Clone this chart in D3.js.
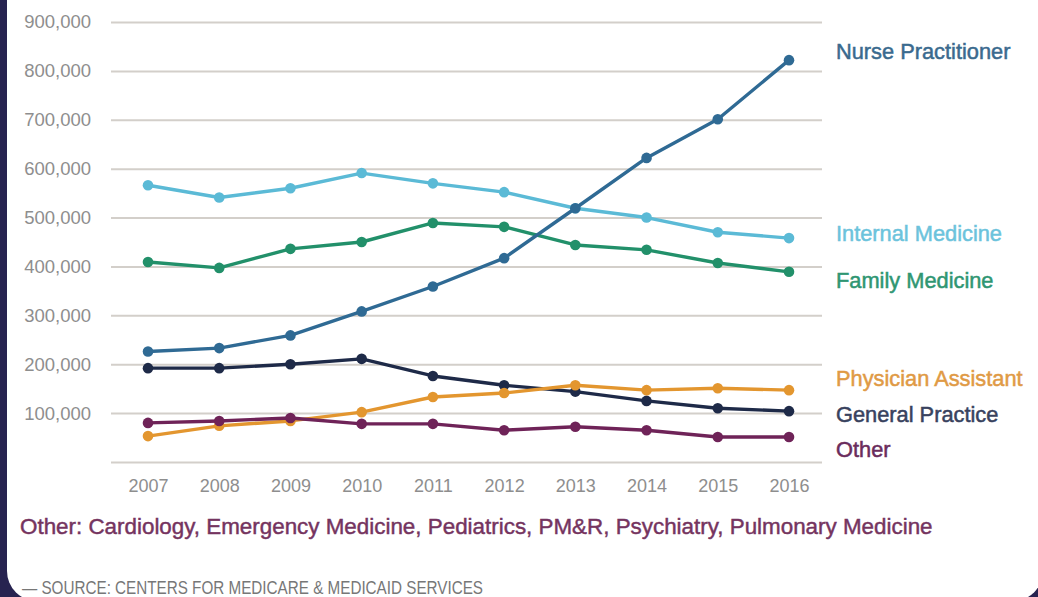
<!DOCTYPE html>
<html>
<head>
<meta charset="utf-8">
<script src="https://cdn.jsdelivr.net/npm/d3@7"></script>
<style>
  html, body { margin: 0; padding: 0; background: #272350; }
  svg { display: block; }
  text { font-family: "Liberation Sans", Arial, Helvetica, sans-serif; }
</style>
</head>
<body>
<svg id="chart" width="1038" height="597"></svg>
<script>
const years = [2007, 2008, 2009, 2010, 2011, 2012, 2013, 2014, 2015, 2016];
const nursePractitioner = [226000, 233000, 259000, 308000, 359000, 417000, 519000, 622000, 701000, 822000];
const internalMedicine  = [566000, 541000, 560000, 591000, 570000, 552000, 519000, 500000, 470000, 458000];
const familyMedicine    = [409000, 397000, 436000, 450000, 489000, 481000, 444000, 434000, 407000, 389000];
const generalPractice   = [192000, 192000, 200000, 211000, 176000, 157000, 144000, 125000, 110000, 104000];
const physicianAssistant= [53000, 74000, 84000, 102000, 133000, 141000, 157000, 147000, 151000, 147000];
const other             = [80000, 84000, 90000, 78000, 78000, 65000, 72000, 65000, 51000, 51000];
const yTicks = [0, 100000, 200000, 300000, 400000, 500000, 600000, 700000, 800000, 900000];
const footnote = "Other: Cardiology, Emergency Medicine, Pediatrics, PM&R, Psychiatry, Pulmonary Medicine";
const source = "\u2014 SOURCE: CENTERS FOR MEDICARE & MEDICAID SERVICES";

const series = [
  { name: "Internal Medicine",   values: internalMedicine,   color: "#5bbad6", label: "#6cc3dc", ly: 241 },
  { name: "Family Medicine",     values: familyMedicine,     color: "#22906a", label: "#2f9672", ly: 288 },
  { name: "Nurse Practitioner",  values: nursePractitioner,  color: "#2f6a94", label: "#3a6a8e", ly: 59 },
  { name: "General Practice",    values: generalPractice,    color: "#1e2a48", label: "#38425e", ly: 422 },
  { name: "Physician Assistant", values: physicianAssistant, color: "#e3962f", label: "#e09a45", ly: 386 },
  { name: "Other",               values: other,              color: "#6f2358", label: "#6a2c5c", ly: 457 }
];

const svg = d3.select("#chart");

// card background
svg.append("rect").attr("x", 0).attr("y", 0).attr("width", 1038).attr("height", 597).attr("fill", "#272350");
svg.append("rect").attr("x", 7).attr("y", -40).attr("width", 1036).attr("height", 641).attr("rx", 30).attr("fill", "#ffffff");

const mLeft = 111, mRight = 822, mTop = 22, mBottom = 462;
const x = d3.scaleLinear().domain([2007, 2016]).range([148, 789]);
const y = d3.scaleLinear().domain([0, 900000]).range([mBottom, mTop]);

// y axis with gridlines
const yAxis = d3.axisLeft(y)
  .tickValues(yTicks)
  .tickFormat(d => d === 0 ? "" : d3.format(",")(d))
  .tickSizeInner(-(mRight - mLeft))
  .tickSizeOuter(0)
  .tickPadding(20);
const gy = svg.append("g").attr("transform", `translate(${mLeft},0)`).call(yAxis);
gy.select(".domain").remove();
gy.selectAll(".tick line").attr("stroke", "#d3cfca").attr("stroke-width", 2);
gy.selectAll(".tick text").attr("fill", "#8e8e8e").style("font-size", "18.5px")
  .style("font-family", "'Liberation Sans', Arial, sans-serif");

// x axis
const xAxis = d3.axisBottom(x).tickValues(years).tickFormat(d3.format("d")).tickSize(0).tickPadding(17);
const gx = svg.append("g").attr("transform", `translate(0,${mBottom})`).call(xAxis);
gx.select(".domain").remove();
gx.selectAll(".tick text").attr("fill", "#8e8e8e").style("font-size", "18px")
  .style("font-family", "'Liberation Sans', Arial, sans-serif");

// lines
const line = d3.line().x((d, i) => x(years[i])).y(d => y(d));
series.forEach(s => {
  svg.append("path").datum(s.values).attr("d", line)
    .attr("fill", "none").attr("stroke", s.color).attr("stroke-width", 3.4)
    .attr("stroke-linejoin", "round");
  svg.append("g").selectAll("circle").data(s.values).join("circle")
    .attr("cx", (d, i) => x(years[i])).attr("cy", d => y(d)).attr("r", 5.3)
    .attr("fill", s.color);
});

// series labels
series.forEach(s => {
  svg.append("text").attr("x", 836).attr("y", s.ly).text(s.name)
    .attr("fill", s.label).attr("stroke", s.label).attr("stroke-width", 0.5)
    .style("font-size", "21.8px");
});

// footnote
svg.append("text").attr("x", 20).attr("y", 534).text(footnote)
  .attr("fill", "#75345f").attr("stroke", "#75345f").attr("stroke-width", 0.45)
  .style("font-size", "22.4px");

svg.append("text").attr("x", 22).attr("y", 594).text(source)
  .attr("fill", "#777777").style("font-size", "19px")
  .attr("textLength", 461).attr("lengthAdjust", "spacingAndGlyphs");
</script>
</body>
</html>
